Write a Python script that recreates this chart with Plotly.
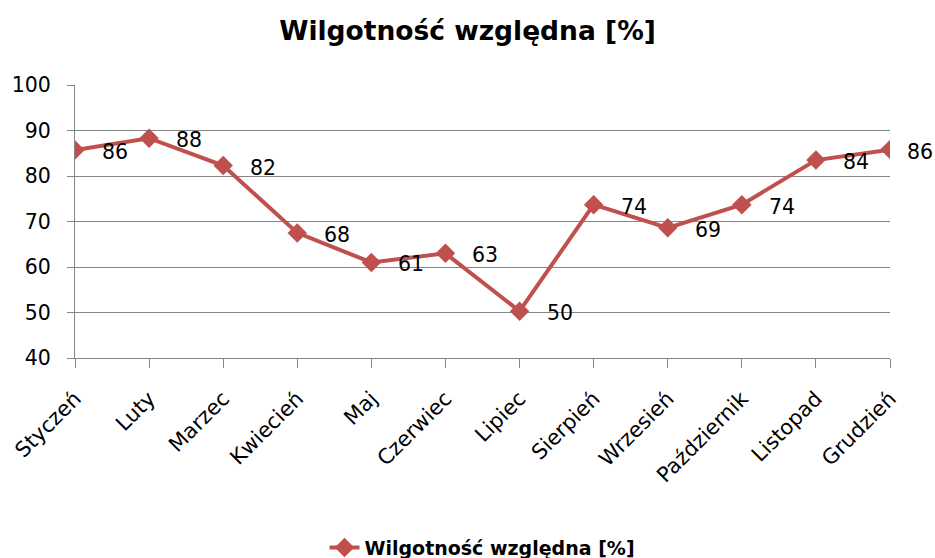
import plotly.graph_objects as go

months = ["Styczeń", "Luty", "Marzec", "Kwiecień", "Maj", "Czerwiec", "Lipiec",
          "Sierpień", "Wrzesień", "Październik", "Listopad", "Grudzień"]
humidity = [85.7, 88.3, 82.3, 67.5, 61.0, 63.0, 50.3, 73.7, 68.6, 73.7, 83.5, 85.8]
series_name = "Wilgotność względna [%]"
y_ticks = [40, 50, 60, 70, 80, 90, 100]

FONT = "'DejaVu Sans', sans-serif"
COLOR = "#C0504D"

fig = go.Figure()
fig.add_trace(go.Scatter(
    x=list(range(len(months))), y=humidity, mode="lines+markers",
    name=series_name,
    line=dict(color=COLOR, width=4),
    marker=dict(symbol="diamond", size=15, color=COLOR),
))

n = len(humidity)
for i, v in enumerate(humidity):
    fig.add_annotation(x=i, y=v, text=f"{v:.0f}", showarrow=False,
                       xanchor="left", yanchor="middle",
                       xshift=15 if i == n - 1 else 25, yshift=-2,
                       font=dict(family=FONT, size=20.5, color="#000000"))

fig.update_layout(
    width=935, height=558,
    margin=dict(l=75, r=45, t=85, b=200, autoexpand=False),
    paper_bgcolor="white", plot_bgcolor="white",
    title=dict(text="<b>" + series_name + "</b>", x=0.5, xanchor="center",
               y=0.945, yanchor="middle",
               font=dict(family=FONT, size=26.5, color="#000000")),
    font=dict(family=FONT, size=20, color="#000000"),
    showlegend=True,
    legend=dict(orientation="h", x=0.5, xanchor="center", y=-0.695, yanchor="middle",
                font=dict(family=FONT, size=19, color="#000000", weight="bold")),
)
fig.update_xaxes(
    range=[0, len(months) - 1], tickmode="array",
    tickvals=list(range(len(months))), ticktext=months,
    tickangle=-45, showgrid=False, showline=True, linecolor="#868686", linewidth=1,
    ticks="outside", ticklen=9, tickcolor="#868686", ticklabelstandoff=10,
    tickfont=dict(family=FONT, size=21),
    automargin=False,
)
fig.update_yaxes(
    range=[40, 100], tickvals=y_ticks, showgrid=True, gridcolor="#868686", gridwidth=1,
    showline=True, linecolor="#868686", linewidth=1,
    ticks="outside", ticklen=7, tickcolor="#868686", zeroline=False,
    ticklabelstandoff=12,
    tickfont=dict(family=FONT, size=20.5),
    automargin=False,
)

fig.write_html("out.html", config={"displayModeBar": False},
               post_script="document.body.style.margin='0px';document.body.style.padding='0px';")
